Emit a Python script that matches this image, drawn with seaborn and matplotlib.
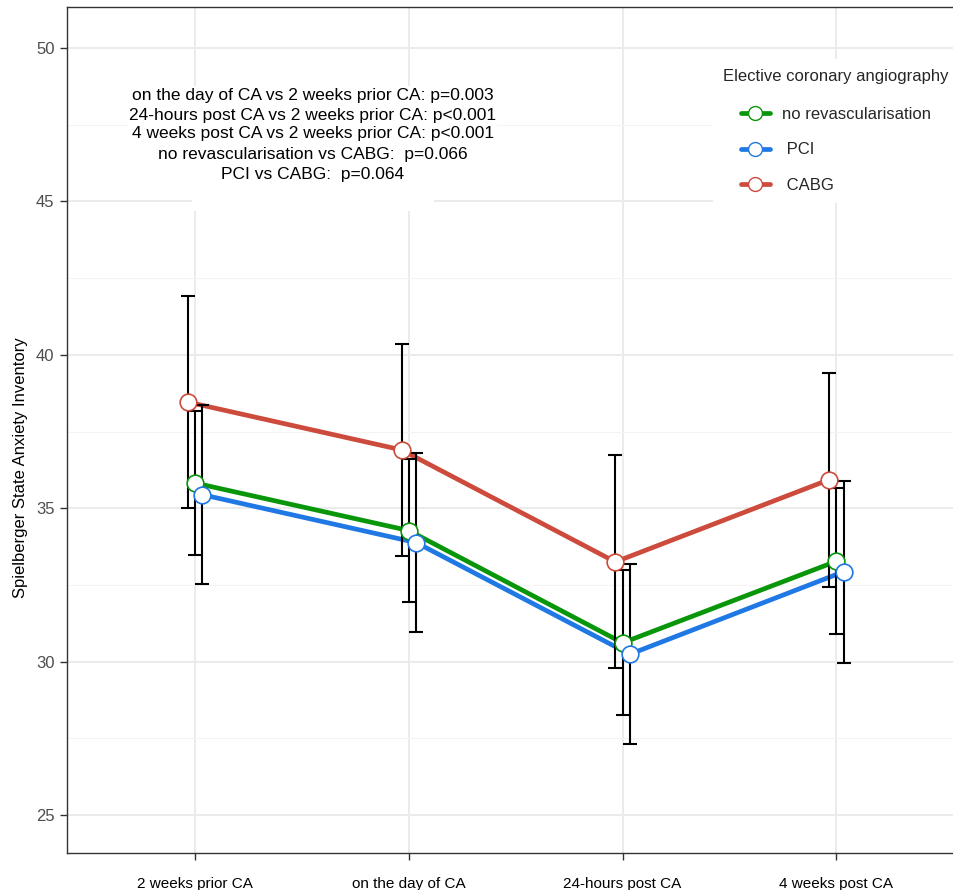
import numpy as np
import pandas as pd
import matplotlib
matplotlib.use("Agg")
import matplotlib.pyplot as plt
from matplotlib.lines import Line2D
from matplotlib.ticker import MultipleLocator
import seaborn as sns

# dados (média e desvio)
momentos = ['2 weeks prior CA', 'on the day of CA', '24-hours post CA', '4 weeks post CA']
grupos = ['no revascularisation', 'PCI', 'CABG']
rotulos_legenda = ['no revascularisation', ' PCI', ' CABG']

media_sem_revasc = [35.82, 34.27, 30.61, 33.27]
desvio_sem_revasc = [2.35, 2.34, 2.36, 2.38]
media_pci = [35.44, 33.88, 30.24, 32.93]
desvio_pci = [2.92, 2.93, 2.93, 2.97]
media_cabg = [38.46, 36.90, 33.25, 35.93]
desvio_cabg = [3.46, 3.45, 3.47, 3.49]

cores = {'no revascularisation': '#0A960A', 'PCI': '#1F78E3', 'CABG': '#CD4B3C'}
deslocamento = {'no revascularisation': 0.0, 'PCI': 0.034, 'CABG': -0.034}

textos_p = [
    'on the day of CA vs 2 weeks prior CA: p=0.003',
    '24-hours post CA vs 2 weeks prior CA: p<0.001',
    '4 weeks post CA vs 2 weeks prior CA: p<0.001',
    'no revascularisation vs CABG:  p=0.066',
    'PCI vs CABG:  p=0.064',
]

# montando o dataframe longo
medias = {'no revascularisation': media_sem_revasc, 'PCI': media_pci, 'CABG': media_cabg}
desvios = {'no revascularisation': desvio_sem_revasc, 'PCI': desvio_pci, 'CABG': desvio_cabg}
linhas = []
for g in grupos:
    for i, m in enumerate(momentos):
        linhas.append({'grupo': g, 'momento': m, 'pos': i + 1 + deslocamento[g],
                       'media': medias[g][i], 'desvio': desvios[g][i]})
df = pd.DataFrame(linhas)

sns.set_theme(style='white')
plt.rcParams['font.family'] = ['Liberation Sans', 'DejaVu Sans']

fig = plt.figure(figsize=(9.54, 8.9), dpi=100)
ax = fig.add_axes([67 / 954, 1 - 853 / 890, 897.5 / 954, 846 / 890])

# linhas
sns.lineplot(data=df, x='pos', y='media', hue='grupo', hue_order=grupos, palette=cores,
             linewidth=3.4, legend=False, ax=ax, zorder=2)

# barras de erro
for g in grupos:
    d = df[df['grupo'] == g]
    ax.errorbar(d['pos'], d['media'], yerr=d['desvio'], fmt='none', ecolor='black',
                elinewidth=1.5, capsize=5, capthick=1.5, zorder=3)

# pontos
for g in grupos:
    d = df[df['grupo'] == g]
    ax.plot(d['pos'], d['media'], 'o', markersize=12, markerfacecolor='white',
            markeredgecolor=cores[g], markeredgewidth=1.2, zorder=4)

ax.set_xlim(0.4, 4.6)
ax.set_ylim(23.76, 51.34)
ax.set_xticks(range(1, 5))
ax.set_xticklabels(momentos)
ax.yaxis.set_major_locator(MultipleLocator(5))
ax.yaxis.set_minor_locator(MultipleLocator(2.5))
ax.grid(which='major', color='#EBEBEB', linewidth=1.4)
ax.grid(which='minor', axis='y', color='#F4F4F4', linewidth=0.8)
ax.set_axisbelow(True)

for s in ax.spines.values():
    s.set_color('#333333')
    s.set_linewidth(1.0)

ax.tick_params(axis='both', which='major', length=5, width=1, color='#333333',
               bottom=True, left=True)
ax.tick_params(axis='x', labelsize=11, labelcolor='black', pad=12)
ax.tick_params(axis='y', labelsize=12, labelcolor='#4D4D4D', pad=4)
ax.set_xlabel('')
ax.set_ylabel('Spielberger State Anxiety Inventory', fontsize=12, color='black')
ax.yaxis.set_label_coords(-0.043, 0.455)

# textos com os valores de p
ys = [0.8948, 0.8723, 0.8499, 0.8262, 0.8026]
for i, (t, y) in enumerate(zip(textos_p, ys)):
    pad = 1.7 if i == len(textos_p) - 1 else 0.15
    ax.text(0.274, y, t, transform=ax.transAxes, ha='center', va='center', fontsize=12.5,
            color='black', zorder=6 if i < len(textos_p) - 1 else 5,
            bbox=dict(boxstyle=f'square,pad={pad}', facecolor='white', edgecolor='none'))

# legenda
handles = [Line2D([0], [0], color=cores[g], linewidth=3.4, marker='o', markersize=10,
                  markerfacecolor='white', markeredgecolor=cores[g]) for g in grupos]
leg = ax.legend(handles, rotulos_legenda, title='Elective coronary angiography', loc='upper left',
                bbox_to_anchor=(0.711, 0.948), frameon=True, fontsize=12, title_fontsize=12,
                handlelength=1.7, labelspacing=1.25, borderpad=0.6, handletextpad=0.75)
leg.get_frame().set_facecolor('white')
leg.get_frame().set_edgecolor('none')
leg.get_frame().set_alpha(1)
leg._legend_box.sep = 16

fig.savefig('out.png', dpi=100)
